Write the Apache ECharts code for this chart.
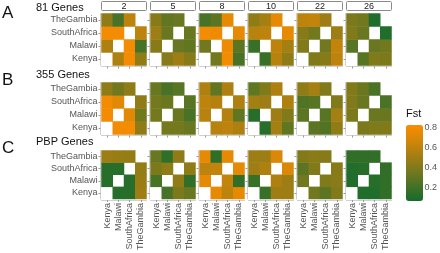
<!DOCTYPE html>
<html>
<head>
<meta charset="utf-8">
<script src="https://cdn.jsdelivr.net/npm/echarts@6/dist/echarts.min.js"></script>
<style>
  html, body { margin: 0; padding: 0; background: #fff; }
  #chart { width: 440px; height: 253px; }
</style>
</head>
<body>
<div id="chart"></div>
<script>
// populations, same order on both axes (y runs bottom -> top)
const pops = ["Kenya", "Malawi", "SouthAfrica", "TheGambia"];
const windows = ["2", "5", "8", "10", "22", "26"];
const geneSets = ["81 Genes", "355 Genes", "PBP Genes"];
const panelTags = ["A", "B", "C"];

// pairwise Fst per window, pair order: K-M, K-S, K-T, M-S, M-T, S-T
const genes81 = [
  [0.55, 0.80, 0.45, 0.80, 0.22, 0.60],
  [0.42, 0.50, 0.42, 0.32, 0.30, 0.32],
  [0.35, 0.80, 0.22, 0.78, 0.28, 0.75],
  [0.17, 0.58, 0.45, 0.60, 0.52, 0.75],
  [0.40, 0.42, 0.60, 0.35, 0.62, 0.50],
  [0.27, 0.40, 0.38, 0.32, 0.35, 0.10]
];
const genes355 = [
  [0.80, 0.80, 0.45, 0.73, 0.35, 0.45],
  [0.36, 0.36, 0.32, 0.33, 0.22, 0.27],
  [0.58, 0.60, 0.55, 0.57, 0.30, 0.55],
  [0.12, 0.52, 0.30, 0.50, 0.40, 0.55],
  [0.28, 0.25, 0.45, 0.27, 0.52, 0.40],
  [0.38, 0.40, 0.40, 0.32, 0.33, 0.23]
];
const genesPBP = [
  [0.12, 0.12, 0.50, 0.12, 0.48, 0.47],
  [0.22, 0.38, 0.32, 0.45, 0.15, 0.45],
  [0.75, 0.60, 0.75, 0.62, 0.15, 0.75],
  [0.17, 0.50, 0.50, 0.55, 0.50, 0.70],
  [0.35, 0.28, 0.40, 0.40, 0.43, 0.42],
  [0.10, 0.10, 0.15, 0.12, 0.15, 0.15]
];
const fstTicks = [0.2, 0.4, 0.6, 0.8];

const allSets = [genes81, genes355, genesPBP];

var myChart = echarts.init(document.getElementById("chart"));

// layout of the facet grid
var x0 = 101.5, pitch = 49, panelW = 45, panelH = 52;
var rowTop = [13.5, 82.5, 150.5];
var fontFam = "Liberation Sans, Arial, sans-serif";
var fstMin = 0.06, fstMax = 0.83;
var barTop = 125, barH = 76, barLeft = 406, barW = 17;

function pairIndex(i, j) {
  var a = Math.min(i, j), b = Math.max(i, j);
  var idx = { "0-1": 0, "0-2": 1, "0-3": 2, "1-2": 3, "1-3": 4, "2-3": 5 };
  return idx[a + "-" + b];
}

var grids = [], xAxes = [], yAxes = [], series = [], graphics = [];

allSets.forEach(function (set, r) {
  set.forEach(function (vals, c) {
    var k = grids.length;
    grids.push({ left: x0 + c * pitch, top: rowTop[r], width: panelW, height: panelH });
    xAxes.push({
      type: "category", gridIndex: k, data: pops, offset: 1,
      axisLine: { show: true, lineStyle: { color: "#d0d0d0", width: 1 } },
      axisTick: { show: true, length: 2, alignWithLabel: true, interval: 0, lineStyle: { color: "#999" } },
      axisLabel: {
        show: r === 2, rotate: 90, fontSize: 9, color: "#555", margin: 3,
        interval: 0, fontFamily: fontFam
      },
      splitLine: { show: false }
    });
    yAxes.push({
      type: "category", gridIndex: k, data: pops, offset: 1,
      axisLine: { show: true, lineStyle: { color: "#d0d0d0", width: 1 } },
      axisTick: { show: true, length: 2, alignWithLabel: true, interval: 0, lineStyle: { color: "#999" } },
      axisLabel: { show: c === 0, fontSize: 9, color: "#555", margin: 3, interval: 0, fontFamily: fontFam },
      splitLine: { show: false }
    });
    var data = [];
    for (var i = 0; i < 4; i++) {
      for (var j = 0; j < 4; j++) {
        if (i !== j) data.push([i, j, vals[pairIndex(i, j)]]);
      }
    }
    series.push({
      type: "heatmap", xAxisIndex: k, yAxisIndex: k, data: data,
      itemStyle: { borderWidth: 0 },
      emphasis: { disabled: true }, silent: true
    });
  });
});

// colour bar axis (labels 0.2 .. 0.8)
var cb = grids.length;
grids.push({ left: barLeft, top: barTop, width: barW, height: barH });
xAxes.push({ type: "value", gridIndex: cb, show: false, min: 0, max: 1 });
yAxes.push({
  type: "value", gridIndex: cb, position: "right", min: fstMin, max: fstMax,
  axisLine: { show: false }, splitLine: { show: false },
  axisTick: { show: true, inside: true, length: 3, lineStyle: { color: "#fff" }, customValues: fstTicks },
  axisLabel: {
    fontSize: 9, color: "#555", margin: 4, fontFamily: fontFam,
    customValues: fstTicks,
    formatter: function (v) { return v.toFixed(1); }
  }
});
yAxes.push({
  type: "value", gridIndex: cb, position: "left", min: fstMin, max: fstMax,
  axisLine: { show: false }, splitLine: { show: false }, axisLabel: { show: false },
  axisTick: { show: true, inside: true, length: 3, lineStyle: { color: "#fff" }, customValues: fstTicks }
});

// facet strips for windows
windows.forEach(function (w, c) {
  graphics.push({
    type: "group", x: x0 + c * pitch, y: 1.5, silent: true,
    children: [
      { type: "rect", shape: { x: 0, y: 0, width: panelW, height: 9, r: 1 },
        style: { fill: "#fff", stroke: "#8a8a8a", lineWidth: 1 } },
      { type: "text", x: panelW / 2, y: 5,
        style: { text: w, fill: "#222", font: "9px " + fontFam, align: "center", verticalAlign: "middle" } }
    ]
  });
});

// row tags and gene set names
var tagY = [13, 80.5, 148.5], nameY = [7.5, 74.5, 142];
geneSets.forEach(function (g, r) {
  graphics.push({ type: "text", x: 2, y: tagY[r], silent: true,
    style: { text: panelTags[r], fill: "#111", font: "17px " + fontFam, verticalAlign: "middle" } });
  graphics.push({ type: "text", x: 36, y: nameY[r], silent: true,
    style: { text: g, fill: "#111", font: "11px " + fontFam, verticalAlign: "middle" } });
});
graphics.push({ type: "text", x: 406, y: 114, silent: true,
  style: { text: "Fst", fill: "#111", font: "11px " + fontFam, verticalAlign: "middle" } });

var option = {
  animation: false,
  backgroundColor: "#fff",
  grid: grids,
  xAxis: xAxes,
  yAxis: yAxes,
  visualMap: {
    type: "continuous", min: fstMin, max: fstMax,
    seriesIndex: series.map(function (s, i) { return i; }),
    calculable: false, orient: "vertical",
    left: barLeft, top: barTop, itemWidth: barW, itemHeight: barH, padding: 0,
    inRange: { color: ["#146b2e", "#467226", "#77791d", "#a57f12", "#d48708", "#fa8d00"] },
    showLabel: false
  },
  series: series,
  graphic: graphics
};
myChart.setOption(option);
window.addEventListener("resize", function () { myChart.resize(); });
</script>
</body>
</html>
